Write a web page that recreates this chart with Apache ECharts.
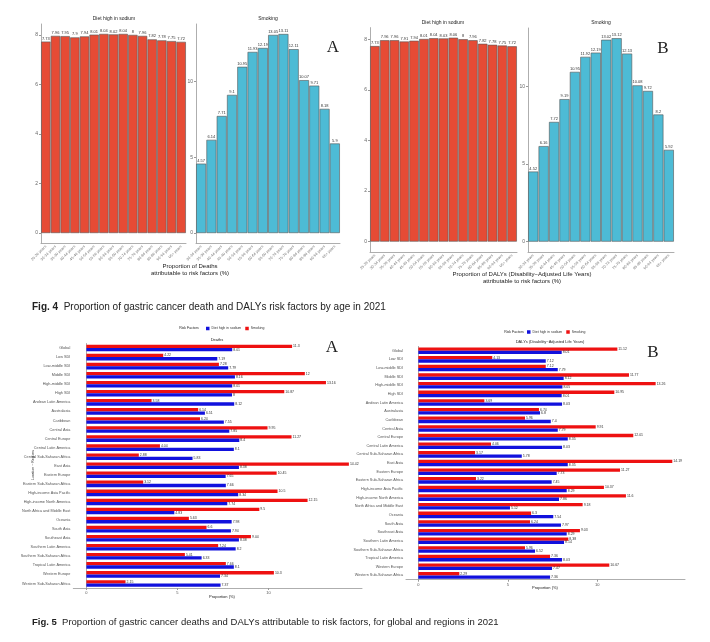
<!DOCTYPE html>
<html>
<head>
<meta charset="utf-8">
<script src="https://cdn.jsdelivr.net/npm/echarts@6.0.0/dist/echarts.min.js"></script>
<style>
  html, body { margin: 0; background: #fff; }
  #chart { width: 710px; height: 642px; }
</style>
</head>
<body>
<div id="chart"></div>
<script>
// age groups (sodium starts at 25, smoking at 30)
const ageSodium = ['25-29 years', '30-34 years', '35-39 years', '40-44 years', '45-49 years',
  '50-54 years', '55-59 years', '60-64 years', '65-69 years', '70-74 years', '75-79 years',
  '80-84 years', '85-89 years', '90-94 years', '95+ years'];
const ageSmoking = ageSodium.slice(1);

// Fig 4 A - deaths
const deathSodiumAge = [7.73, 7.96, 7.95, 7.9, 7.94, 8.01, 8.04, 8.02, 8.04, 8, 7.96, 7.82, 7.78, 7.75, 7.72];
const deathSmokingAge = [4.57, 6.14, 7.71, 9.1, 10.95, 11.93, 12.19, 13.05, 13.11, 12.11, 10.07, 9.71, 8.18, 5.9];
// Fig 4 B - DALYs
const dalySodiumAge = [7.73, 7.96, 7.96, 7.91, 7.94, 8.01, 8.04, 8.03, 8.06, 8, 7.96, 7.82, 7.78, 7.75, 7.72];
const dalySmokingAge = [4.52, 6.16, 7.72, 9.19, 10.95, 11.92, 12.19, 13.02, 13.12, 12.13, 10.08, 9.72, 8.2, 5.92];

// Fig 5 regions
const regions = ['Global', 'Low SDI', 'Low-middle SDI', 'Middle SDI', 'High-middle SDI', 'High SDI',
  'Andean Latin America', 'Australasia', 'Caribbean', 'Central Asia', 'Central Europe',
  'Central Latin America', 'Central Sub-Saharan Africa', 'East Asia', 'Eastern Europe',
  'Eastern Sub-Saharan Africa', 'High-income Asia Pacific', 'High-income North America',
  'North Africa and Middle East', 'Oceania', 'South Asia', 'Southeast Asia',
  'Southern Latin America', 'Southern Sub-Saharan Africa', 'Tropical Latin America',
  'Western Europe', 'Western Sub-Saharan Africa'];
const deathSmokingReg = [11.3, 4.22, 7.28, 12.0, 13.16, 10.87, 3.58, 6.14, 6.24, 9.95, 11.27, 4.04, 2.88,
  14.42, 10.45, 3.12, 10.5, 12.15, 9.5, 5.63, 6.6, 9.04, 7.24, 5.41, 7.66, 10.3, 2.15];
const deathSodiumReg = [8.01, 7.19, 7.79, 8.16, 8.01, 8.0, 8.12, 6.51, 7.55, 7.85, 8.4, 8.1, 5.83,
  8.38, 7.65, 7.66, 8.34, 7.74, 4.83, 7.98, 7.94, 8.38, 8.2, 6.33, 8.1, 7.34, 7.37];
const dalySmokingReg = [11.12, 4.13, 7.12, 11.77, 13.26, 10.95, 3.69, 6.74, 5.96, 9.91, 12.01, 4.06, 3.17,
  14.19, 11.27, 3.22, 10.37, 11.6, 9.18, 6.3, 6.24, 9.03, 8.38, 5.96, 7.36, 10.67, 2.29];
const dalySodiumReg = [8.01, 7.12, 7.79, 8.12, 8.05, 8.01, 8.03, 6.8, 7.4, 7.79, 8.35, 8.03, 5.78,
  8.35, 7.73, 7.45, 8.29, 7.86, 5.12, 7.54, 7.97, 8.29, 8.14, 6.52, 8.03, 7.47, 7.36];

const sodiumTicks = [0, 2, 4, 6, 8];
const smokingTicks = [0, 5, 10];

const chart = echarts.init(document.getElementById('chart'));

const axisGrey = '#999';
const txtGrey = '#555';

function ageX (gridIndex, data) {
  return {
    type: 'category', gridIndex, data,
    axisLine: { onZero: false, lineStyle: { color: axisGrey, width: 0.8 } },
    axisTick: { length: 2, alignWithLabel: true, lineStyle: { color: axisGrey } },
    axisLabel: { rotate: 45, interval: 0, fontSize: 3.8, color: '#777', margin: 3 }
  }
}
function propY (gridIndex, min, max, ticks) {
  return {
    type: 'value', gridIndex, min, max,
    splitLine: { show: false },
    axisLine: { show: true, lineStyle: { color: axisGrey, width: 0.8 } },
    axisTick: { show: true, length: 2, customValues: ticks, lineStyle: { color: axisGrey } },
    axisLabel: { fontSize: 5, color: '#666', margin: 3, customValues: ticks }
  }
}
function ageBars (name, idx, data, color) {
  return {
    name, type: 'bar', xAxisIndex: idx, yAxisIndex: idx, data,
    barCategoryGap: '3%',
    itemStyle: { color, borderColor: '#555', borderWidth: 0.6 },
    label: { show: true, position: 'top', distance: 1, fontSize: 4, color: '#333' }
  }
}
function regionY (gridIndex) {
  return {
    type: 'category', gridIndex, data: regions, inverse: true,
    axisLine: { lineStyle: { color: axisGrey, width: 0.8 } },
    axisTick: { length: 2, alignWithLabel: true, lineStyle: { color: axisGrey } },
    axisLabel: { interval: 0, fontSize: 3.8, color: txtGrey, margin: 3 }
  }
}
function propX (gridIndex, min, max) {
  return {
    type: 'value', gridIndex, min, max,
    splitLine: { show: false },
    axisLine: { show: true, lineStyle: { color: axisGrey, width: 0.8 } },
    axisTick: { show: true, length: 2, customValues: [0, 5, 10], lineStyle: { color: axisGrey } },
    axisLabel: { fontSize: 4, color: txtGrey, margin: 3, customValues: [0, 5, 10] }
  }
}
function regionBars (name, idx, data, color) {
  return {
    name, type: 'bar', xAxisIndex: idx, yAxisIndex: idx, data,
    barWidth: 3.3, barGap: '0%',
    itemStyle: { color },
    label: { show: true, position: 'right', distance: 1, fontSize: 3.5, color: '#333' }
  }
}
function txt (x, y, text, fontSize, extra, rotation) {
  return {
    type: 'text', x, y, rotation: rotation || 0,
    style: Object.assign({ text, fontSize, fill: '#222', align: 'center', verticalAlign: 'middle',
      fontFamily: 'Liberation Sans' }, extra || {})
  }
}

const option = {
  backgroundColor: '#fff',
  animation: false,
  textStyle: { fontFamily: 'Liberation Sans' },
  grid: [
    { left: 41, top: 24, width: 145, height: 219 },
    { left: 196, top: 24, width: 144, height: 219 },
    { left: 370, top: 27.6, width: 147, height: 224.2 },
    { left: 528, top: 28, width: 146, height: 223.8 },
    { left: 73.3, top: 343.5, width: 288.7, height: 244.5 },
    { left: 406, top: 346.4, width: 279, height: 233.3 }
  ],
  xAxis: [
    ageX(0, ageSodium), ageX(1, ageSmoking), ageX(2, ageSodium), ageX(3, ageSmoking),
    propX(4, -0.72, 15.14), propX(5, -0.69, 14.9)
  ],
  yAxis: [
    propY(0, -0.402, 8.44, sodiumTicks), propY(1, -0.656, 13.77, smokingTicks),
    propY(2, -0.403, 8.46, sodiumTicks), propY(3, -0.656, 13.78, smokingTicks),
    regionY(4), regionY(5)
  ],
  legend: [
    { left: 206, top: 326.5, itemWidth: 3.5, itemHeight: 3.5, itemGap: 4, padding: 0,
      textStyle: { fontSize: 3.5, color: '#333', padding: [0, 0, 0, -3] },
      data: [{ name: 'Diet high in sodium', icon: 'rect' }, { name: 'Smoking', icon: 'rect' }] },
    { left: 527, top: 330, itemWidth: 3.5, itemHeight: 3.5, itemGap: 4, padding: 0,
      textStyle: { fontSize: 3.5, color: '#333', padding: [0, 0, 0, -3] },
      data: [{ name: 'Diet high in sodium', icon: 'rect' }, { name: 'Smoking', icon: 'rect' }] }
  ],
  series: [
    ageBars('sodiumA', 0, deathSodiumAge, '#E64B35'),
    ageBars('smokingA', 1, deathSmokingAge, '#4DBBD5'),
    ageBars('sodiumB', 2, dalySodiumAge, '#E64B35'),
    ageBars('smokingB', 3, dalySmokingAge, '#4DBBD5'),
    regionBars('Smoking', 4, deathSmokingReg, '#ee1111'),
    regionBars('Diet high in sodium', 4, deathSodiumReg, '#1111dd'),
    regionBars('Smoking', 5, dalySmokingReg, '#ee1111'),
    regionBars('Diet high in sodium', 5, dalySodiumReg, '#1111dd')
  ],
  graphic: [
    // Fig 4 panel titles
    txt(114, 19, 'Diet high in sodium', 5),
    txt(268, 19, 'Smoking', 5),
    txt(443, 23, 'Diet high in sodium', 5),
    txt(601, 23, 'Smoking', 5),
    txt(333, 48, 'A', 17, { fontFamily: 'Liberation Serif' }),
    txt(663, 49, 'B', 17, { fontFamily: 'Liberation Serif' }),
    txt(190, 266, 'Proportion of Deaths', 6),
    txt(190, 273, 'attributable to risk factors (%)', 6),
    txt(522, 274, 'Proportion of DALYs (Disability\u2212Adjusted Life Years)', 6),
    txt(522, 281.5, 'attributable to risk factors (%)', 6),
    txt(32, 307, '{b|Fig. 4}  Proportion of gastric cancer death and DALYs risk factors by age in 2021', 10,
      { align: 'left', rich: { b: { fontWeight: 'bold', fontSize: 10 } } }),
    // Fig 5
    txt(189, 328, 'Risk Factors', 3.5),
    txt(217, 340, 'Deaths', 4),
    txt(332, 348, 'A', 17, { fontFamily: 'Liberation Serif' }),
    txt(222, 597, 'Proportion (%)', 4),
    txt(33, 465, 'Location \u2212 Regions', 3.5, null, Math.PI / 2),
    txt(514, 332, 'Risk Factors', 3.5),
    txt(550, 342, 'DALYs (Disability\u2212Adjusted Life Years)', 4),
    txt(653, 353, 'B', 17, { fontFamily: 'Liberation Serif' }),
    txt(545, 588, 'Proportion (%)', 4),
    txt(32, 622, '{b|Fig. 5}  Proportion of gastric cancer deaths and DALYs attributable to risk factors, for global and regions in 2021', 9.5,
      { align: 'left', rich: { b: { fontWeight: 'bold', fontSize: 9.5 } } })
  ]
};

chart.setOption(option);
</script>
</body>
</html>
